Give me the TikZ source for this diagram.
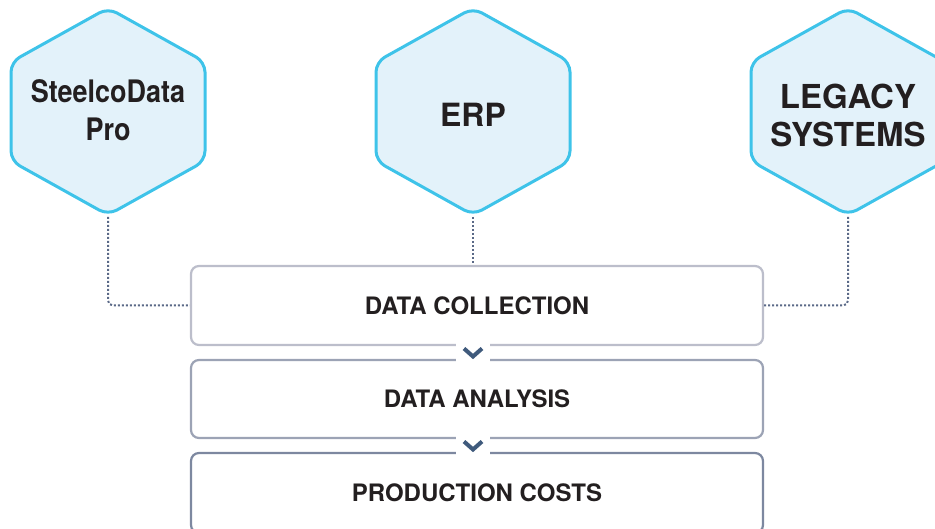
\documentclass[tikz,border=0pt]{standalone}
\usepackage{fontspec}
\setmainfont{TeX Gyre Heros}
\definecolor{hexfill}{HTML}{E3F2FA}
\definecolor{hexline}{HTML}{3EC3E9}
\definecolor{dotc}{HTML}{5A6987}
\definecolor{boxa}{HTML}{BCBECB}
\definecolor{boxb}{HTML}{9CA3B5}
\definecolor{boxc}{HTML}{7D88A0}
\definecolor{chev}{HTML}{3F5A7C}
\definecolor{txt}{HTML}{231F20}
\tikzset{
  hexshape/.style={fill=hexfill, draw=hexline, line width=3pt, rounded corners=10pt},
  hexlabel/.style={font=\bfseries\fontsize{32}{38}\selectfont, text=txt, align=center, inner sep=0pt},
  stagebox/.style={line width=2.2pt, rounded corners=8pt, fill=white, minimum width=572pt, inner sep=0pt, font=\bfseries\fontsize{24}{28}\selectfont, text=txt},
  link/.style={draw=dotc, dotted, line width=2pt, rounded corners=5pt},
  gapbox/.style={fill=white, minimum width=34pt, minimum height=24pt, inner sep=0pt},
  chevmark/.style={draw=chev, line width=4pt, line join=miter}
}
\newcommand{\drawhexagon}[1]{%
  \draw[hexshape] (#1,8) -- (#1+97,62) -- (#1+97,161) -- (#1,215) -- (#1-97,161) -- (#1-97,62) -- cycle;}
\begin{document}
\begin{tikzpicture}[x=1pt,y=-1pt]
\useasboundingbox (0,0) rectangle (935,529);
% hexagons
\drawhexagon{108}
\drawhexagon{473}
\drawhexagon{848}
\node[hexlabel, font=\bfseries\fontsize{31}{38}\selectfont] (hA) at (108,110) {\scalebox{0.87}[1]{SteelcoData}\\\scalebox{0.87}[1]{Pro}};
\node[hexlabel] (hB) at (473,115) {ERP};
\node[hexlabel, font=\bfseries\fontsize{33}{38}\selectfont] (hC) at (848,115) {LEGACY\\SYSTEMS};
\coordinate (hAb) at (108,217);
\coordinate (hBb) at (473,217);
\coordinate (hCb) at (848,217);
% stage boxes
\node[stagebox, draw=boxa, minimum height=79pt] (collect) at (477,305.5) {DATA COLLECTION};
\node[stagebox, draw=boxb, minimum height=78pt] (analysis) at (477,399) {DATA ANALYSIS};
\node[stagebox, draw=boxc, minimum height=80pt] (costs) at (477,493) {PRODUCTION COSTS};
% connectors
\draw[link] (hAb) |- (collect.west);
\draw[link] (hCb) |- (collect.east);
\draw[link] (hBb) -- (hBb |- collect.north);
% chevrons
\node[gapbox] (gA) at (473,352.5) {};
\node[gapbox] (gB) at (473,445.5) {};
\draw[chevmark] ([xshift=-9pt,yshift=4pt]gA.center) -- ([yshift=-4pt]gA.center) -- ([xshift=9pt,yshift=4pt]gA.center);
\draw[chevmark] ([xshift=-9pt,yshift=4pt]gB.center) -- ([yshift=-4pt]gB.center) -- ([xshift=9pt,yshift=4pt]gB.center);
\end{tikzpicture}
\end{document}
